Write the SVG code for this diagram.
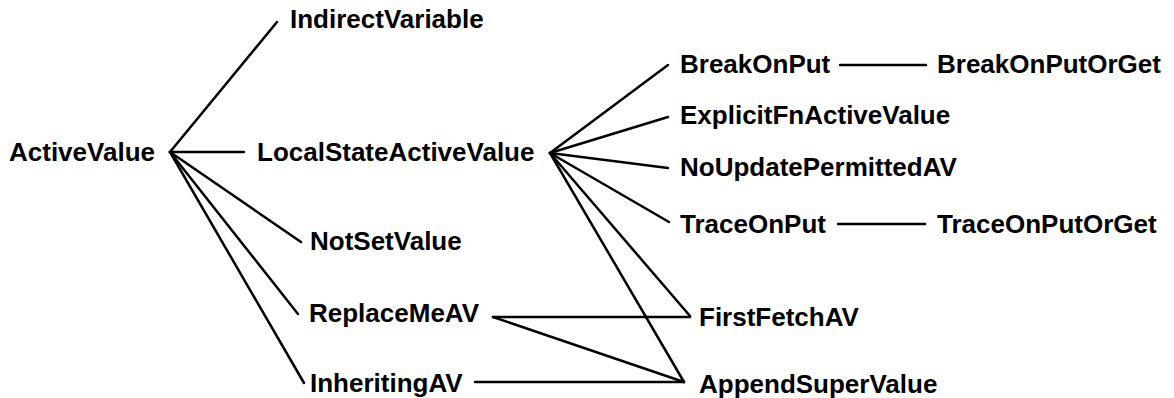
<svg xmlns="http://www.w3.org/2000/svg" width="1174" height="398" viewBox="0 0 1174 398">
  <style>
    .lbl { font-family: "Liberation Sans", Arial, sans-serif; font-weight: bold; font-size: 26px; fill: #000; }
    .edge { stroke: #000; stroke-width: 2.5; fill: none; stroke-linecap: round; }
  </style>
  <rect width="1174" height="398" fill="#fff"/>
  <g id="connectors">
    <!-- ActiveValue subclasses -->
    <line class="edge" x1="170" y1="152" x2="277" y2="22"/>
    <line class="edge" x1="170" y1="152" x2="244" y2="152"/>
    <line class="edge" x1="170" y1="152" x2="301" y2="242"/>
    <line class="edge" x1="170" y1="152" x2="298" y2="314"/>
    <line class="edge" x1="170" y1="152" x2="304" y2="383"/>
    <!-- LocalStateActiveValue subclasses -->
    <line class="edge" x1="550" y1="153" x2="668" y2="65"/>
    <line class="edge" x1="550" y1="153" x2="668" y2="117"/>
    <line class="edge" x1="550" y1="153" x2="668" y2="168"/>
    <line class="edge" x1="550" y1="153" x2="669" y2="222"/>
    <line class="edge" x1="550" y1="153" x2="690" y2="316"/>
    <line class="edge" x1="550" y1="153" x2="684" y2="382"/>
    <!-- leaf chains -->
    <line class="edge" x1="840" y1="65" x2="926" y2="65"/>
    <line class="edge" x1="838" y1="224" x2="925" y2="224"/>
    <!-- mixins -->
    <line class="edge" x1="493" y1="317" x2="690" y2="317"/>
    <line class="edge" x1="493" y1="317" x2="684" y2="382"/>
    <line class="edge" x1="475" y1="382" x2="684" y2="382"/>
  </g>
  <g id="ActiveValue"><text class="lbl" x="9" y="161">ActiveValue</text></g>
  <g id="IndirectVariable"><text class="lbl" x="290" y="28">IndirectVariable</text></g>
  <g id="LocalStateActiveValue"><text class="lbl" x="257" y="161">LocalStateActiveValue</text></g>
  <g id="NotSetValue"><text class="lbl" x="310" y="250">NotSetValue</text></g>
  <g id="ReplaceMeAV"><text class="lbl" x="309" y="322">ReplaceMeAV</text></g>
  <g id="InheritingAV"><text class="lbl" x="310" y="392">InheritingAV</text></g>
  <g id="BreakOnPut"><text class="lbl" x="680" y="73">BreakOnPut</text></g>
  <g id="BreakOnPutOrGet"><text class="lbl" x="937" y="73">BreakOnPutOrGet</text></g>
  <g id="ExplicitFnActiveValue"><text class="lbl" x="680" y="124">ExplicitFnActiveValue</text></g>
  <g id="NoUpdatePermittedAV"><text class="lbl" x="680" y="176">NoUpdatePermittedAV</text></g>
  <g id="TraceOnPut"><text class="lbl" x="680" y="233">TraceOnPut</text></g>
  <g id="TraceOnPutOrGet"><text class="lbl" x="937" y="233">TraceOnPutOrGet</text></g>
  <g id="FirstFetchAV"><text class="lbl" x="699" y="326">FirstFetchAV</text></g>
  <g id="AppendSuperValue"><text class="lbl" x="699" y="393">AppendSuperValue</text></g>
</svg>
